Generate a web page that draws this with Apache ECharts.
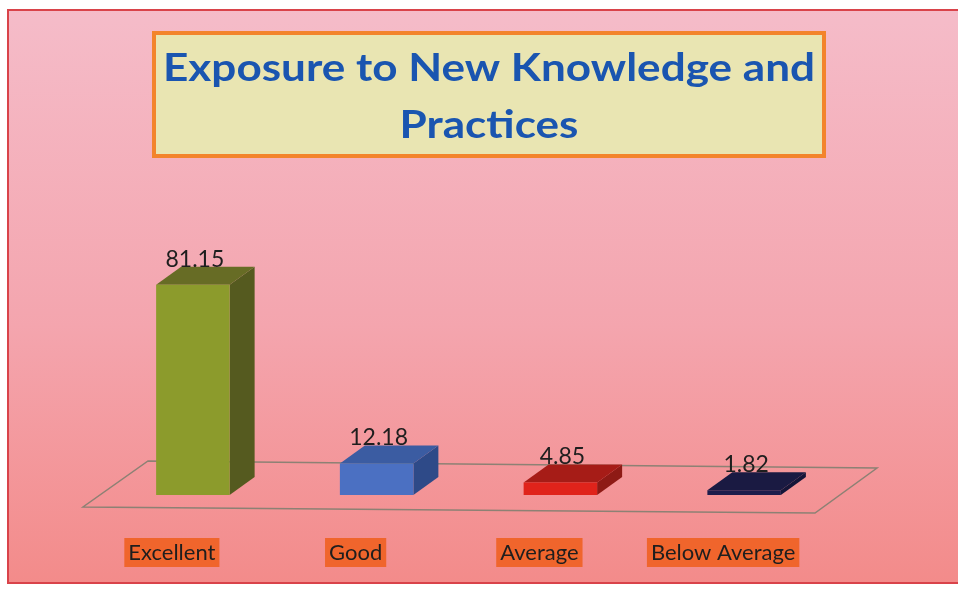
<!DOCTYPE html>
<html>
<head>
<meta charset="utf-8">
<script src="https://cdn.jsdelivr.net/npm/echarts@6/dist/echarts.min.js"></script>
<style>
  html, body { margin: 0; padding: 0; background: #fff; }
  #main { width: 958px; height: 590px; }
</style>
</head>
<body>
<div id="main"></div>
<script>
const categories = ['Excellent', 'Good', 'Average', 'Below Average']
const values = [81.15, 12.18, 4.85, 1.82]
// front / top / side colours for each box
const faceColors = [
  ['#8c9b2c', '#676c25', '#555a1f'],
  ['#4b70c2', '#3b5ca2', '#2e4a88'],
  ['#e0231b', '#a61c17', '#8e1a15'],
  ['#1d1d4c', '#1a1a42', '#151538']
]

const depthX = 25
const depthY = -18

const chart = echarts.init(document.getElementById('main'))

function renderBox(params, api) {
  const i = params.dataIndex
  const top = api.coord([api.value(0), api.value(1)])
  const base = api.coord([api.value(0), 0])
  const w = api.size([1, 0])[0] * 0.4
  const l = top[0] - w / 2
  const r = top[0] + w / 2
  const t = top[1]
  const b = base[1]
  const c = faceColors[i]
  return {
    type: 'group',
    children: [
      {
        type: 'polygon',
        shape: { points: [[r, t], [r + depthX, t + depthY], [r + depthX, b + depthY], [r, b]] },
        style: { fill: c[2] }
      },
      {
        type: 'polygon',
        shape: { points: [[l, t], [r, t], [r + depthX, t + depthY], [l + depthX, t + depthY]] },
        style: { fill: c[1] }
      },
      {
        type: 'rect',
        shape: { x: l, y: t, width: w, height: b - t },
        style: { fill: c[0] }
      },
      {
        type: 'text',
        x: top[0] + 2,
        y: t + depthY + 4,
        style: {
          text: String(values[i]),
          fill: '#1e1e1e',
          font: '23px Lato',
          textAlign: 'center',
          textVerticalAlign: 'bottom'
        }
      }
    ]
  }
}

chart.setOption({
  backgroundColor: '#ffffff',
  animation: false,
  graphic: [
    {
      type: 'rect',
      z: -10,
      shape: { x: 8, y: 10, width: 960, height: 573 },
      style: {
        fill: {
          type: 'linear', x: 0, y: 0, x2: 0, y2: 1,
          colorStops: [
            { offset: 0, color: '#f5bcc9' },
            { offset: 0.55, color: '#f4a5ae' },
            { offset: 1, color: '#f38b8a' }
          ]
        },
        stroke: '#d9434a',
        lineWidth: 2
      }
    },
    {
      // title panel
      type: 'group',
      z: -5,
      children: [
        {
          type: 'rect',
          shape: { x: 154, y: 33, width: 670, height: 123 },
          style: { fill: '#e9e5b2', stroke: '#f3842c', lineWidth: 4 }
        },
        {
          type: 'text',
          x: 489, y: 97,
          scaleX: 1.13,
          style: {
            text: 'Exposure to New Knowledge and\nPractices',
            fill: '#1a55b0',
            font: 'bold 39px Lato',
            lineHeight: 57,
            textAlign: 'center',
            textVerticalAlign: 'middle'
          }
        }
      ]
    },
    {
      // floor
      type: 'polygon',
      z: -4,
      shape: { points: [[148, 461], [877, 468], [815, 513], [83, 507]] },
      style: { fill: 'none', stroke: '#8d8174', lineWidth: 1.5 }
    }
  ],
  grid: [
    { left: 101, right: 122, top: 236, bottom: 95 },
    { left: 80, right: 143, top: 236, bottom: 95 }
  ],
  xAxis: [
    {
      type: 'category', gridIndex: 0, data: categories,
      axisLine: { show: false }, axisTick: { show: false }, axisLabel: { show: false }
    },
    {
      type: 'category', gridIndex: 1, data: categories,
      axisLine: { show: false }, axisTick: { show: false },
      axisLabel: {
        interval: 0,
        hideOverlap: false,
        margin: 43,
        color: '#1e1e1e',
        fontFamily: 'Lato',
        fontSize: 22,
        backgroundColor: '#f0652c',
        padding: [4, 4, 3, 4]
      }
    }
  ],
  yAxis: [
    { type: 'value', gridIndex: 0, min: 0, max: 100, show: false },
    { type: 'value', gridIndex: 1, min: 0, max: 100, show: false }
  ],
  series: [{
    type: 'custom',
    xAxisIndex: 0,
    yAxisIndex: 0,
    renderItem: renderBox,
    data: categories.map((c, i) => [i, values[i]])
  }]
})
</script>
</body>
</html>
